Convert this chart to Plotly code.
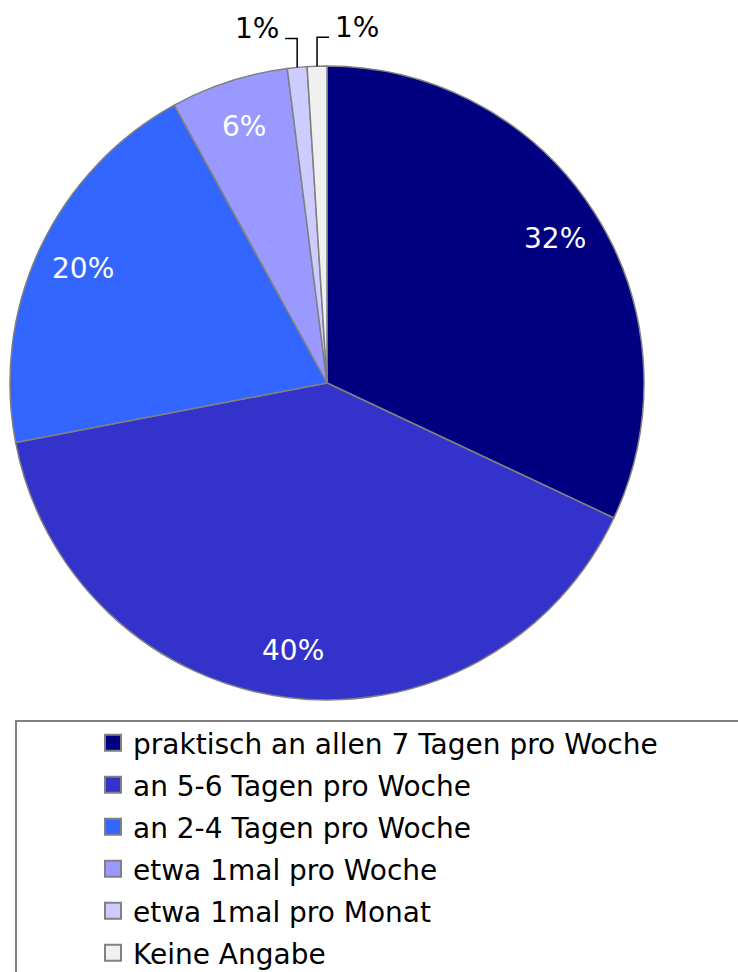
import math
import plotly.graph_objects as go

# Anteile der Nutzungshäufigkeit (im Uhrzeigersinn ab 12 Uhr)
categories = ['praktisch an allen 7 Tagen pro Woche',
              'an 5-6 Tagen pro Woche',
              'an 2-4 Tagen pro Woche',
              'etwa 1mal pro Woche',
              'etwa 1mal pro Monat',
              'Keine Angabe']
values = [32, 40, 20, 6, 1, 1]
colors = ['#000080', '#3333CC', '#3366FF', '#9999FF', '#CCCCFF', '#F0F0F0']

W, H = 738, 972
FONT = 'DejaVu Sans'

# Tortenbereich in Pixeln (links, rechts, oben, unten)
PIE_L, PIE_R, PIE_T, PIE_B = 10, 644, 66, 700
cx, cy = (PIE_L + PIE_R) / 2, (PIE_T + PIE_B) / 2
rad = min(PIE_R - PIE_L, PIE_B - PIE_T) / 2


def px(x):
    return x / W


def py(y):
    return 1 - y / H


fig = go.Figure()

fig.add_trace(go.Pie(
    labels=categories,
    values=values,
    sort=False,
    direction='clockwise',
    rotation=0,
    marker=dict(colors=colors, line=dict(color='#808080', width=1.5)),
    textinfo='none',
    domain=dict(x=[px(PIE_L), px(PIE_R)], y=[py(PIE_B), py(PIE_T)]),
    showlegend=False,
    hoverinfo='label+percent',
))

# Beschriftungen wie im Original: innen weiß, kleine Segmente außen mit Führungslinie
total = sum(values)
annotations = []
shapes = []
cum = 0
small_idx = 0
for v in values:
    mid = (cum + v / 2) / total * 2 * math.pi
    cum += v
    sx, sy = math.sin(mid), -math.cos(mid)
    if v / total >= 0.03:
        annotations.append(dict(
            x=px(cx + 0.85 * rad * sx), y=py(cy + 0.85 * rad * sy),
            xref='paper', yref='paper', text=f'{v}%', showarrow=False,
            font=dict(family=FONT, size=28, color='white'),
            xanchor='center', yanchor='middle'))
    else:
        ex, ey = cx + rad * sx, cy + rad * sy
        ly = ey - 29
        d = -1 if small_idx % 2 == 0 else 1
        hx = ex + d * 12
        shapes.append(dict(
            type='path', xref='paper', yref='paper',
            path=f'M {px(ex)},{py(ey)} L {px(ex)},{py(ly)} L {px(hx)},{py(ly)}',
            line=dict(color='black', width=1.5)))
        annotations.append(dict(
            x=px(hx + d * 4), y=py(ly - 10),
            xref='paper', yref='paper', text=f'{v}%', showarrow=False,
            font=dict(family=FONT, size=28, color='black'),
            xanchor='left' if d > 0 else 'right', yanchor='middle'))
        small_idx += 1

# Legendeneinträge (nur Legende, größere Quadrate + Zeilenabstand)
for name, c in zip(categories, colors):
    fig.add_trace(go.Scatter(
        x=[None], y=[None], mode='markers', name=name, legendgroup=name,
        marker=dict(symbol='square', size=16, color=c,
                    line=dict(color='#808080', width=2)),
    ))

# Legendenrahmen, läuft über den rechten und unteren Rand hinaus
shapes.append(dict(type='rect', xref='paper', yref='paper',
                   x0=px(16), x1=1.05, y0=-0.05, y1=py(721),
                   line=dict(color='#808080', width=2), layer='below'))

fig.update_layout(
    width=W, height=H,
    margin=dict(l=0, r=0, t=0, b=0, autoexpand=False),
    paper_bgcolor='white',
    plot_bgcolor='white',
    font=dict(family=FONT, size=28, color='black'),
    xaxis=dict(visible=False),
    yaxis=dict(visible=False),
    legend=dict(
        x=px(93), y=py(718), xanchor='left', yanchor='top',
        font=dict(family=FONT, size=28, color='black'),
        bgcolor='rgba(0,0,0,0)', borderwidth=0, maxheight=600,
        tracegroupgap=2.6, itemclick=False, itemdoubleclick=False,
    ),
    shapes=shapes,
    annotations=annotations,
)

# Standardrand des <body> entfernen, damit die Grafik bündig im Fenster sitzt
fig.write_html('out.html',
               config={'displayModeBar': False},
               post_script="document.body.style.margin = '0';")
